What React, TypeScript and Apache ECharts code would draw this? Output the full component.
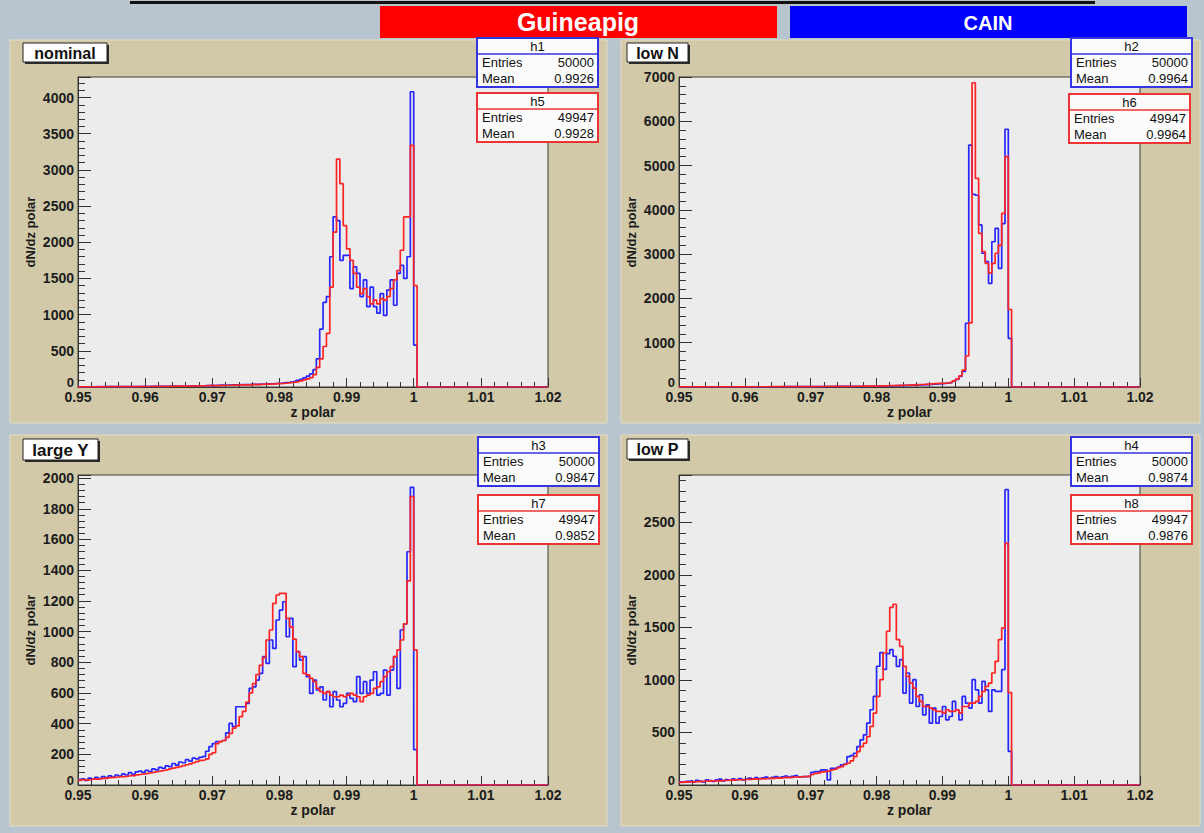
import React, { useEffect, useRef } from "react";
import * as echarts from "echarts";

// ---------- axis definition ----------
const X_MIN = 0.95;
const X_MAX = 1.02;
const X_STEP = 0.01;
const BIN_WIDTH = 0.0005; // histogram bin width, bins start at X_MIN
const X_TITLE = "z polar";
const Y_TITLE = "dN/dz polar";

// ---------- panels ----------
const PANEL_TITLES = ["nominal", "low N", "large Y", "low P"];
const Y_MAX = [4284, 7000, 2020, 2950];
const Y_STEP = [500, 1000, 200, 500];

// ---------- statistics boxes ----------
const CAIN_NAMES = ["h1", "h2", "h3", "h4"];
const CAIN_ENTRIES = ["50000", "50000", "50000", "50000"];
const CAIN_MEANS = ["0.9926", "0.9964", "0.9847", "0.9874"];
const GP_NAMES = ["h5", "h6", "h7", "h8"];
const GP_ENTRIES = ["49947", "49947", "49947", "49947"];
const GP_MEANS = ["0.9928", "0.9964", "0.9852", "0.9876"];

// ---------- histogram contents (bin i starts at 0.95 + i*0.0005) ----------
const nominalCain = [
  2, 3, 2, 3, 3, 4, 3, 4, 4, 5,
  4, 5, 5, 6, 5, 6, 6, 7, 7, 8,
  7, 8, 8, 9, 9, 10, 10, 11, 11, 12,
  12, 13, 14, 15, 15, 16, 17, 18, 20, 22,
  20, 23, 25, 24, 27, 28, 30, 29, 32, 34,
  33, 36, 38, 37, 40, 42, 45, 44, 48, 52,
  55, 60, 65, 72, 80, 92, 105, 125, 150, 180,
  240, 390, 800, 1170, 1250, 1800, 2350, 2300, 1750, 1820,
  1820, 1360, 1660, 1570, 1250, 1480, 1110, 1380, 1110, 1020,
  1290, 990, 1340, 1480, 1130, 1570, 1680, 1500, 1800, 4080,
  580,
];
const nominalGuineapig = [
  2, 2, 3, 2, 3, 3, 4, 3, 4, 4,
  5, 4, 5, 5, 6, 5, 6, 6, 7, 7,
  7, 7, 8, 8, 9, 9, 10, 10, 11, 11,
  12, 12, 13, 13, 14, 15, 16, 17, 18, 19,
  18, 20, 22, 21, 24, 25, 27, 26, 29, 31,
  30, 33, 35, 34, 37, 39, 41, 40, 44, 47,
  48, 52, 56, 62, 68, 76, 86, 98, 112, 130,
  170, 270, 390, 560, 740, 1380, 2140, 3150, 2810, 2230,
  1910, 1750, 1570, 1380, 1290, 1360, 1250, 1150, 1200, 1150,
  1220, 1200, 1250, 1360, 1480, 1610, 1890, 2350, 2350, 3340,
  1400,
];
const lowNCain = [
  1, 1, 2, 2, 2, 2, 2, 3, 3, 3,
  3, 3, 3, 3, 4, 4, 4, 4, 4, 4,
  4, 4, 5, 5, 5, 5, 6, 6, 6, 6,
  6, 7, 7, 7, 7, 7, 8, 8, 8, 8,
  8, 9, 9, 10, 10, 11, 11, 12, 12, 13,
  13, 14, 14, 15, 15, 16, 16, 17, 18, 19,
  20, 22, 24, 25, 27, 29, 31, 33, 35, 37,
  40, 42, 45, 48, 52, 55, 60, 65, 70, 75,
  80, 90, 100, 130, 170, 240, 350, 1440, 5460, 4350,
  4330, 3660, 3020, 2830, 2340, 3280, 3580, 2680, 3690, 5820,
  1100,
];
const lowNGuineapig = [
  1, 2, 1, 2, 2, 3, 2, 3, 3, 3,
  3, 4, 3, 4, 4, 4, 5, 4, 5, 5,
  5, 5, 5, 6, 6, 6, 6, 7, 7, 7,
  7, 7, 8, 8, 8, 9, 9, 9, 10, 10,
  10, 10, 11, 11, 12, 12, 13, 13, 14, 14,
  15, 15, 16, 17, 17, 18, 19, 20, 21, 22,
  23, 25, 27, 29, 31, 33, 35, 37, 40, 43,
  46, 49, 53, 57, 61, 66, 71, 76, 80, 84,
  85, 95, 110, 140, 180, 250, 380, 700, 1450, 6870,
  4710, 3470, 3060, 2790, 2570, 2790, 3020, 3200, 3920, 5200,
  1750,
];
const largeYCain = [
  35, 40, 30, 45, 38, 50, 42, 55, 48, 60,
  52, 65, 58, 72, 65, 80, 70, 85, 90, 82,
  95, 88, 105, 98, 115, 108, 125, 120, 140, 130,
  150, 145, 165, 155, 175, 170, 180, 185, 220, 250,
  270, 282, 285, 290, 340, 402, 380, 510, 510, 510,
  532, 630, 640, 684, 727, 836, 793, 945, 890, 1075,
  1140, 1194, 966, 1086, 771, 869, 814, 836, 706, 597,
  684, 619, 640, 554, 608, 510, 608, 554, 510, 532,
  597, 565, 543, 706, 597, 673, 597, 684, 738, 586,
  597, 749, 586, 749, 836, 630, 1010, 1050, 1520, 1940,
  230,
];
const largeYGuineapig = [
  30, 35, 32, 36, 40, 38, 42, 45, 43, 48,
  50, 52, 55, 54, 58, 62, 60, 66, 70, 72,
  76, 80, 84, 88, 92, 96, 100, 105, 110, 115,
  120, 126, 132, 138, 145, 152, 160, 163, 170, 200,
  210, 270, 282, 290, 310, 337, 370, 385, 445, 480,
  540, 600, 660, 720, 780, 830, 945, 1010, 1183, 1238,
  1249, 1249, 1086, 1031, 950, 869, 836, 727, 717, 695,
  673, 630, 608, 597, 608, 586, 575, 575, 586, 575,
  586, 597, 586, 575, 543, 575, 586, 597, 630, 640,
  673, 706, 738, 771, 836, 880, 945, 1050, 1330, 1880,
  880,
];
const lowPCain = [
  30, 25, 35, 40, 28, 45, 38, 30, 50, 42,
  35, 48, 55, 40, 52, 45, 58, 50, 62, 48,
  55, 65, 58, 70, 60, 68, 75, 62, 72, 80,
  70, 78, 85, 75, 82, 90, 78, 80, 80, 85,
  120, 127, 130, 143, 143, 48, 159, 160, 170, 191,
  200, 270, 280, 302, 366, 429, 477, 588, 716, 843,
  1130, 1260, 1100, 1250, 1288, 1225, 1129, 1193, 875, 1066,
  779, 1002, 747, 859, 668, 763, 588, 732, 588, 652,
  747, 620, 652, 795, 716, 620, 843, 779, 732, 1002,
  906, 779, 986, 906, 700, 906, 891, 891, 1097, 2810,
  320,
];
const lowPGuineapig = [
  25, 30, 28, 32, 30, 35, 33, 38, 36, 40,
  38, 42, 40, 45, 43, 48, 46, 50, 52, 50,
  55, 53, 58, 56, 60, 58, 62, 65, 63, 68,
  66, 70, 72, 70, 75, 76, 78, 80, 82, 85,
  100, 110, 115, 125, 130, 135, 143, 150, 165, 175,
  195, 207, 230, 270, 318, 366, 398, 461, 557, 684,
  843, 1002, 1256, 1463, 1690, 1720, 1384, 1320, 1129, 1034,
  970, 922, 843, 795, 747, 750, 732, 716, 700, 700,
  684, 716, 700, 700, 716, 684, 747, 747, 779, 779,
  795, 843, 891, 938, 970, 1066, 1177, 1384, 1495, 2300,
  880,
];

const CAIN_DATA = [nominalCain, lowNCain, largeYCain, lowPCain];
const GP_DATA = [nominalGuineapig, lowNGuineapig, largeYGuineapig, lowPGuineapig];

// ---------- styling / layout ----------
const FONT = '"Liberation Sans", Arial, Helvetica, sans-serif';
const BLUE = "#2626ff";
const RED = "#ff2424";
const TAN = "#d1c9a8";
const PAGE_BG = "#b9c5ce";
const PLOT_BG = "#ececec";
const INK = "#1c1c1c";

const LAYOUT = [
  { panel: [10, 40, 597, 383], grid: [78, 77, 470, 310], title: [23, 43, 84, 19], cain: [477, 38], gp: [477, 93], yGap: 41 },
  { panel: [621, 40, 579, 383], grid: [679, 77, 461, 310], title: [627, 43, 61, 19], cain: [1071, 38], gp: [1069, 94], yGap: 41 },
  { panel: [10, 435, 597, 391], grid: [78, 475, 470, 310], title: [23, 439, 75, 21], cain: [478, 437], gp: [478, 495], yGap: 41 },
  { panel: [621, 435, 579, 391], grid: [679, 475, 461, 310], title: [627, 439, 61, 20], cain: [1071, 437], gp: [1071, 495], yGap: 41 },
];

function toSteps(values: number[]) {
  const pts: number[][] = values.map((v, i) => [X_MIN + i * BIN_WIDTH, v]);
  pts.push([X_MIN + values.length * BIN_WIDTH, 0]);
  pts.push([X_MAX, 0]);
  return pts;
}

function text(x: number, y: number, str: string, font: string, fill: string, align: string, z = 20) {
  return {
    type: "text",
    x,
    y,
    z,
    silent: true,
    style: { text: str, font, fill, align, verticalAlign: "middle" },
  };
}

function statsBox(x: number, y: number, color: string, name: string, entries: string, mean: string) {
  const w = 121;
  const h = 49;
  const f = `13px ${FONT}`;
  return [
    { type: "rect", z: 20, silent: true, shape: { x, y, width: w, height: h }, style: { fill: "#fbfbfb", stroke: color, lineWidth: 2 } },
    { type: "line", z: 21, silent: true, shape: { x1: x, y1: y + 16, x2: x + w, y2: y + 16 }, style: { stroke: color, lineWidth: 1.5 } },
    text(x + w / 2, y + 8.5, name, f, "#111", "center", 22),
    text(x + 5, y + 24.5, "Entries", f, "#111", "left", 22),
    text(x + w - 4, y + 24.5, entries, f, "#111", "right", 22),
    text(x + 5, y + 40, "Mean", f, "#111", "left", 22),
    text(x + w - 4, y + 40, mean, f, "#111", "right", 22),
  ];
}

function buildOption() {
  const elements: any[] = [];
  // top banner
  elements.push({ type: "rect", z: 1, silent: true, shape: { x: 130, y: 1, width: 965, height: 3 }, style: { fill: "#111" } });
  elements.push({ type: "rect", z: 1, silent: true, shape: { x: 380, y: 6, width: 397, height: 32 }, style: { fill: "#ff0000" } });
  elements.push(text(578, 22, "Guineapig", `bold 25px ${FONT}`, "#ffffff", "center", 2));
  elements.push({ type: "rect", z: 1, silent: true, shape: { x: 790, y: 6, width: 397, height: 32 }, style: { fill: "#0000ff" } });
  elements.push(text(988, 23, "CAIN", `bold 20px ${FONT}`, "#ffffff", "center", 2));

  LAYOUT.forEach((l, i) => {
    const [px, py, pw, ph] = l.panel;
    elements.push({ type: "rect", z: -10, silent: true, shape: { x: px, y: py, width: pw, height: ph }, style: { fill: TAN, stroke: "#e4ddc4", lineWidth: 1 } });
    const [tx, ty, tw, th] = l.title;
    elements.push({ type: "rect", z: 18, silent: true, shape: { x: tx + 2, y: ty + 2, width: tw, height: th }, style: { fill: "#2a2a2a" } });
    elements.push({ type: "rect", z: 19, silent: true, shape: { x: tx, y: ty, width: tw, height: th }, style: { fill: "#ffffff", stroke: "#222", lineWidth: 1 } });
    elements.push(text(tx + tw / 2, ty + th / 2 + 0.5, PANEL_TITLES[i], `bold ${i === 2 ? 17 : 16}px ${FONT}`, "#111", "center", 20));
    elements.push(...statsBox(l.cain[0], l.cain[1], "#3434e0", CAIN_NAMES[i], CAIN_ENTRIES[i], CAIN_MEANS[i]));
    elements.push(...statsBox(l.gp[0], l.gp[1], "#ec3434", GP_NAMES[i], GP_ENTRIES[i], GP_MEANS[i]));
  });

  const labelStyle = { color: INK, fontFamily: FONT, fontWeight: "bold" as const, fontSize: 14 };

  return {
    animation: false,
    backgroundColor: PAGE_BG,
    textStyle: { fontFamily: FONT },
    grid: LAYOUT.map((l) => ({
      left: l.grid[0],
      top: l.grid[1],
      width: l.grid[2],
      height: l.grid[3],
      show: true,
      backgroundColor: PLOT_BG,
      borderColor: "#3c3c3c",
      borderWidth: 1,
      containLabel: false,
      outerBoundsMode: "none",
    })),
    xAxis: LAYOUT.map((l, i) => ({
      type: "value",
      gridIndex: i,
      min: X_MIN,
      max: X_MAX,
      interval: X_STEP,
      name: X_TITLE,
      nameLocation: "middle",
      nameGap: 18,
      nameTextStyle: { ...labelStyle },
      axisLine: { show: true, onZero: false, lineStyle: { color: "#333", width: 1 } },
      axisTick: { show: true, inside: true, length: 9, lineStyle: { color: "#333" } },
      minorTick: { show: true, splitNumber: 5, length: 5, lineStyle: { color: "#333" } },
      axisLabel: { ...labelStyle, margin: 3 },
      splitLine: { show: false },
      minorSplitLine: { show: false },
    })),
    yAxis: LAYOUT.map((l, i) => ({
      type: "value",
      gridIndex: i,
      min: 0,
      max: Y_MAX[i],
      interval: Y_STEP[i],
      name: Y_TITLE,
      nameLocation: "middle",
      nameRotate: 90,
      nameGap: l.yGap,
      nameTextStyle: { ...labelStyle, fontSize: 13 },
      axisLine: { show: true, onZero: false, lineStyle: { color: "#333", width: 1 } },
      axisTick: { show: true, inside: true, length: 13, lineStyle: { color: "#333" } },
      minorTick: { show: true, splitNumber: 5, length: 7, lineStyle: { color: "#333" } },
      axisLabel: {
        ...labelStyle,
        margin: 4,
        showMaxLabel: Y_MAX[i] % Y_STEP[i] === 0,
        formatter: (v: number) => (v === 0 ? "{zero|0}" : String(Math.round(v))),
        rich: {
          zero: { ...labelStyle, fontSize: 13, padding: [0, 0, 9, 0] },
        },
      },
      splitLine: { show: false },
      minorSplitLine: { show: false },
    })),
    series: LAYOUT.flatMap((l, i) => [
      {
        name: `CAIN ${CAIN_NAMES[i]}`,
        type: "line",
        xAxisIndex: i,
        yAxisIndex: i,
        step: "end",
        symbol: "none",
        showSymbol: false,
        silent: true,
        z: 3,
        lineStyle: { color: BLUE, width: 1.7 },
        data: toSteps(CAIN_DATA[i]),
      },
      {
        name: `Guineapig ${GP_NAMES[i]}`,
        type: "line",
        xAxisIndex: i,
        yAxisIndex: i,
        step: "end",
        symbol: "none",
        showSymbol: false,
        silent: true,
        z: 4,
        lineStyle: { color: RED, width: 1.7 },
        data: toSteps(GP_DATA[i]),
      },
    ]),
    graphic: { elements },
  };
}

export default function App() {
  const ref = useRef<HTMLDivElement>(null);
  useEffect(() => {
    if (!ref.current) return;
    const chart = echarts.init(ref.current, undefined, { renderer: "svg", width: 1204, height: 833 });
    chart.setOption(buildOption() as any);
    return () => chart.dispose();
  }, []);
  return (
    <div
      ref={ref}
      style={{ position: "fixed", left: 0, top: 0, width: 1204, height: 833 }}
    />
  );
}
